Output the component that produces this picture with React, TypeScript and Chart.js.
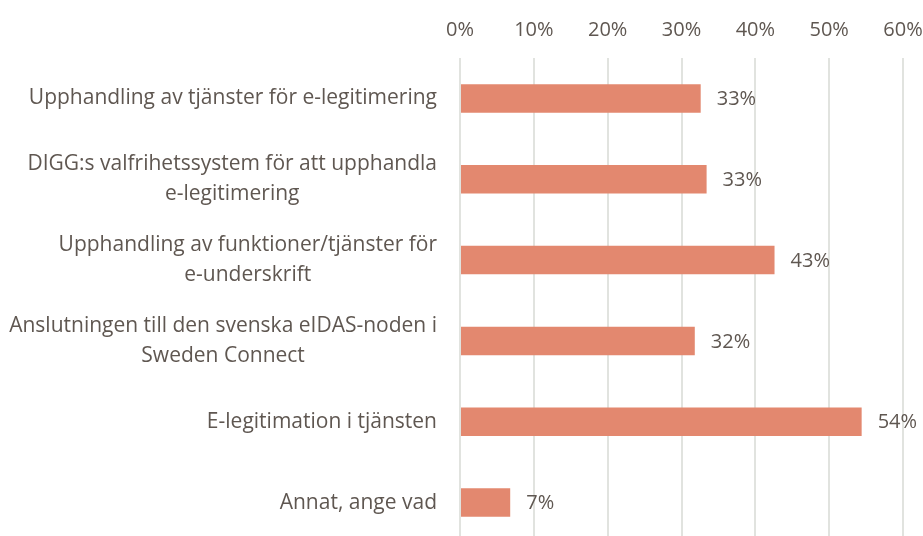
import React, { useEffect, useRef } from "react";
import { Chart, registerables } from "chart.js";

Chart.register(...registerables);

const categories: string[][] = [
  ["Upphandling av tjänster för e-legitimering"],
  ["DIGG:s valfrihetssystem för att upphandla", "e-legitimering"],
  ["Upphandling av funktioner/tjänster för", "e-underskrift"],
  ["Anslutningen till den svenska eIDAS-noden i", "Sweden Connect"],
  ["E-legitimation i tjänsten"],
  ["Annat, ange vad"],
];
const values: number[] = [32.6, 33.4, 42.6, 31.8, 54.4, 6.8];
const valueLabels: string[] = ["33%", "33%", "43%", "32%", "54%", "7%"];
const xTicks: number[] = [0, 10, 20, 30, 40, 50, 60];

const FONT = "'Open Sans', sans-serif";
const FS = 20;
const CAT_FS = 21;
const TEXT = "#5f5751";
const BAR = "#e3886f";
const GRID = "#e1e3df";

export default function App() {
  const ref = useRef<HTMLCanvasElement | null>(null);
  useEffect(() => {
    if (!ref.current) return;
    document.body.style.margin = "0";
    const labelPlugin = {
      id: "customLabels",
      afterDatasetsDraw(chart: any) {
        const ctx = chart.ctx;
        const ys = chart.scales.y;
        const meta = chart.getDatasetMeta(0);
        ctx.save();
        ctx.fillStyle = TEXT;
        ctx.textBaseline = "middle";
        const lh = 30;
        categories.forEach((lines, i) => {
          const cy = ys.getPixelForValue(i);
          ctx.font = `${CAT_FS}px ${FONT}`;
          let maxW = 0;
          lines.forEach((l) => (maxW = Math.max(maxW, ctx.measureText(l).width)));
          const right = chart.chartArea.left - 23;
          const cx = right - maxW / 2;
          ctx.textAlign = "center";
          lines.forEach((l, j) => {
            ctx.fillText(l, cx, cy + (j - (lines.length - 1) / 2) * lh);
          });
          const bar = meta.data[i];
          ctx.font = `${FS}px ${FONT}`;
          ctx.textAlign = "left";
          ctx.fillText(valueLabels[i], bar.x + 16, cy + 1);
        });
        ctx.restore();
      },
    };
    const chart = new Chart(ref.current, {
      type: "bar",
      data: {
        labels: categories.map((c) => c.join(" ")),
        datasets: [
          {
            data: values,
            backgroundColor: BAR,
            borderWidth: 0,
            categoryPercentage: 1,
            barPercentage: 0.353,
          },
        ],
      },
      options: {
        indexAxis: "y",
        animation: false,
        responsive: false,
        maintainAspectRatio: false,
        layout: { padding: { left: 460, right: 20, top: 0, bottom: 0 } },
        plugins: { legend: { display: false }, tooltip: { enabled: false } },
        scales: {
          x: {
            position: "top",
            min: 0,
            max: 60,
            afterBuildTicks: (axis: any) => {
              axis.ticks = xTicks.map((v) => ({ value: v }));
            },
            afterFit: (axis: any) => {
              axis.height = 58;
              axis.paddingLeft = 0;
              axis.paddingRight = 0;
            },
            ticks: {
              color: TEXT,
              font: { family: FONT, size: FS },
              padding: 16,
              maxRotation: 0,
              callback: (v: any) => `${v}%`,
            },
            grid: { color: GRID, lineWidth: 2, drawTicks: false },
            border: { display: false },
          },
          y: {
            display: false,
            grid: { display: false },
          },
        },
      },
      plugins: [labelPlugin],
    });
    return () => chart.destroy();
  }, []);
  return (
    <div style={{ position: "absolute", left: 0, top: 0, width: 923, height: 543 }}>
      <canvas ref={ref} width={923} height={543} style={{ width: 923, height: 543 }} />
    </div>
  );
}
